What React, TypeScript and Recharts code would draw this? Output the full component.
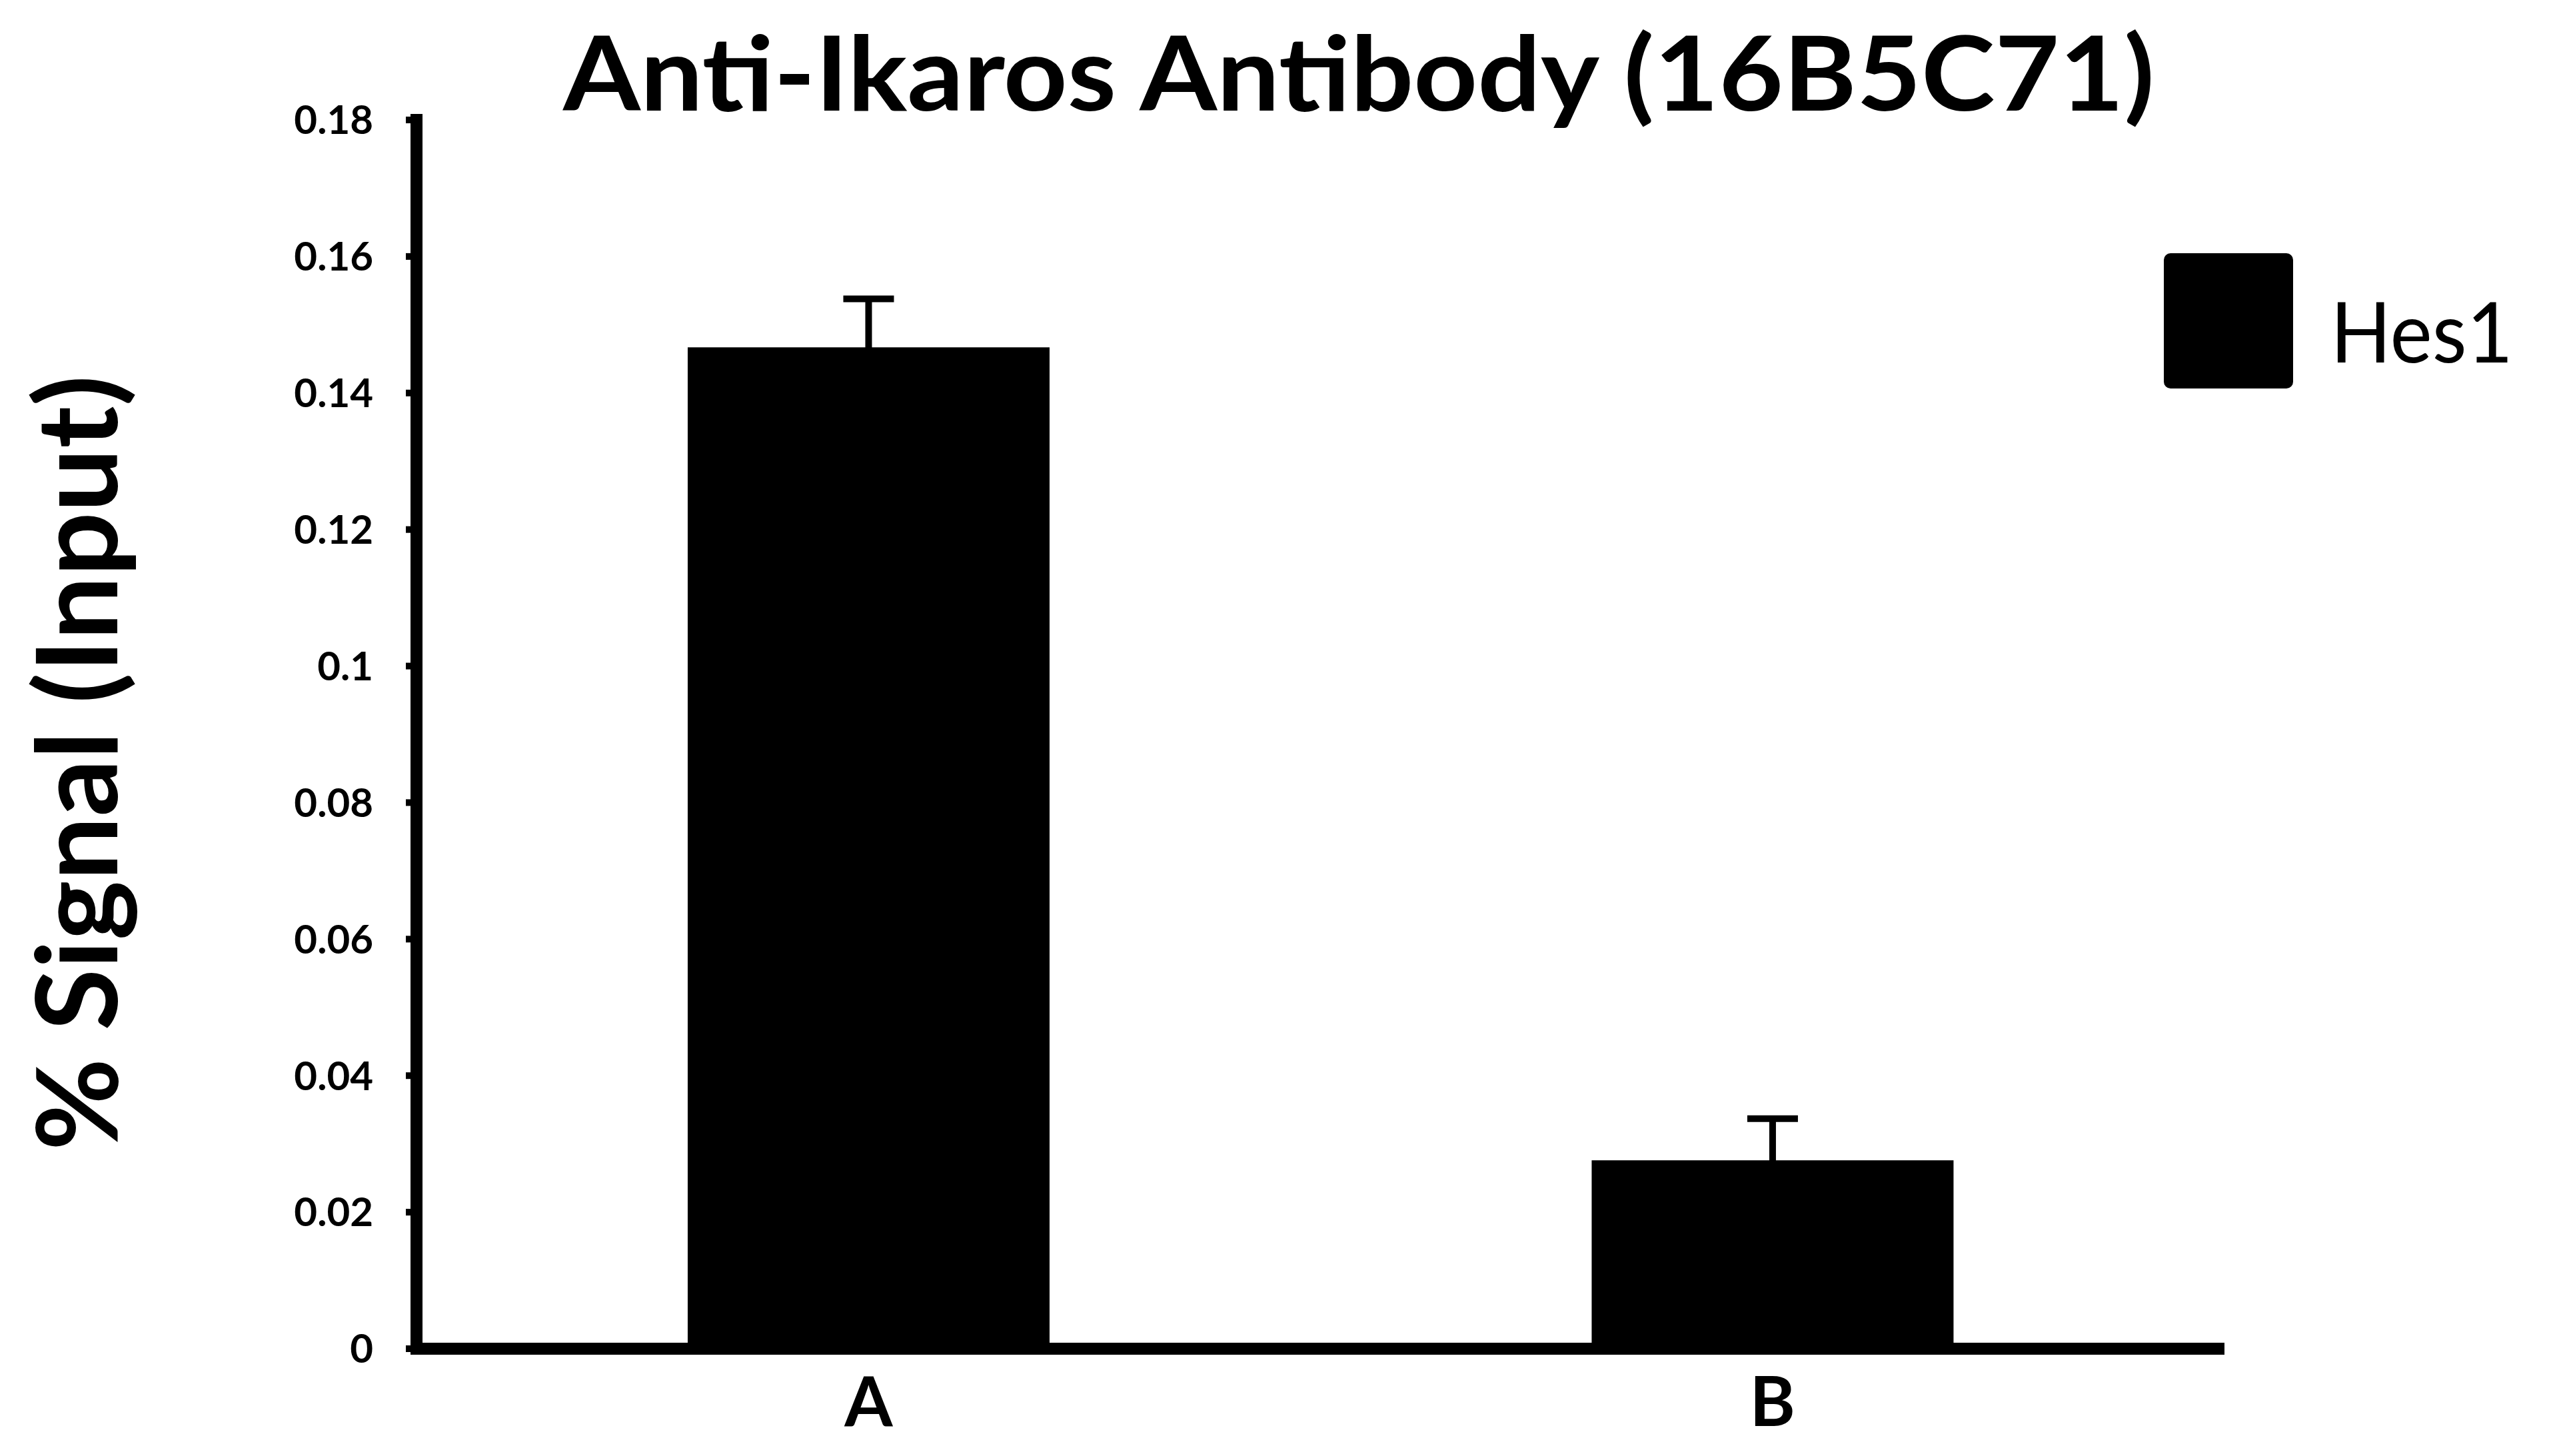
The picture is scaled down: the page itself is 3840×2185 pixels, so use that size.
import React from 'react';
import { BarChart, Bar, XAxis, YAxis, ErrorBar, Legend } from 'recharts';

const categories = ['A', 'B'];
const hes1Values = [0.1467, 0.0276];
const hes1Errors = [0.0071, 0.0061];
const yTicks = [0, 0.02, 0.04, 0.06, 0.08, 0.1, 0.12, 0.14, 0.16, 0.18];
const seriesName = 'Hes1';
const title = 'Anti-Ikaros Antibody (16B5C71)';
const yLabel = '% Signal (Input)';

const data = categories.map((c, i) => ({ name: c, value: hes1Values[i], err: hes1Errors[i] }));

const FONT = 'Lato, "Open Sans", sans-serif';

const YLabel = (props: any) => {
  const vb = props.viewBox || {};
  const cx = 176;
  const cy = (vb.y ?? 0) + (vb.height ?? 0) / 2 + 43;
  return (
    <text
      x={cx}
      y={cy}
      transform={`rotate(-90, ${cx}, ${cy})`}
      textAnchor="middle"
      fontFamily={FONT}
      fontWeight="bold"
      fontSize={168}
      fill="#000"
      textLength={1164}
      lengthAdjust="spacingAndGlyphs"
    >
      {yLabel}
    </text>
  );
};

const LegendContent = (props: any) => {
  const payload = props.payload || [];
  return (
    <svg width={560} height={220} style={{ display: 'block' }}>
      {payload.map((p: any, i: number) => (
        <g key={i}>
          <rect x={0} y={0} width={194} height={203} rx={10} fill="#000" />
          <text x={250} y={164} fontFamily={FONT} fontSize={126} fill="#000" textLength={274} lengthAdjust="spacingAndGlyphs">
            {p.value}
          </text>
        </g>
      ))}
    </svg>
  );
};

export default function App() {
  return (
    <div style={{ position: 'absolute', left: 0, top: 0, width: 3840, height: 2185, background: '#fff' }}>
      <BarChart
        width={3840}
        height={2185}
        data={data}
        margin={{ top: 180, right: 502, left: 0, bottom: 41 }}
        barCategoryGap="30%"
      >
        <XAxis
          dataKey="name"
          axisLine={{ stroke: '#000', strokeWidth: 18, strokeLinecap: 'butt' }}
          tickLine={false}
          tickSize={0}
          tickMargin={42}
          height={120}
          tick={{ fontFamily: FONT, fontWeight: 'bold', fontSize: 104, fill: '#000' }}
        />
        <YAxis
          width={625}
          domain={[0, 0.18]}
          ticks={yTicks}
          interval={0}
          axisLine={{ stroke: '#000', strokeWidth: 18, strokeLinecap: 'square' }}
          tickLine={{ stroke: '#000', strokeWidth: 10 }}
          tickSize={16}
          tickMargin={49}
          tick={{ fontFamily: FONT, fontWeight: 'bold', fontSize: 60, fill: '#000' }}
          label={<YLabel />}
        />
        <Legend
          layout="horizontal"
          verticalAlign="middle"
          align="center"
          wrapperStyle={{ left: 3247, top: 380, width: 560, height: 220 }}
          content={<LegendContent />}
        />
        <Bar dataKey="value" name={seriesName} fill="#000" isAnimationActive={false}>
          <ErrorBar dataKey="err" width={38} strokeWidth={10} stroke="#000" direction="y" />
        </Bar>
      </BarChart>
      <svg
        width={3840}
        height={260}
        style={{ position: 'absolute', left: 0, top: 0, pointerEvents: 'none' }}
      >
        <text
          x={2039}
          y={166}
          textAnchor="middle"
          fontFamily={FONT}
          fontWeight="bold"
          fontSize={156}
          fill="#000"
          textLength={2388}
          lengthAdjust="spacingAndGlyphs"
        >
          {title}
        </text>
      </svg>
    </div>
  );
}
